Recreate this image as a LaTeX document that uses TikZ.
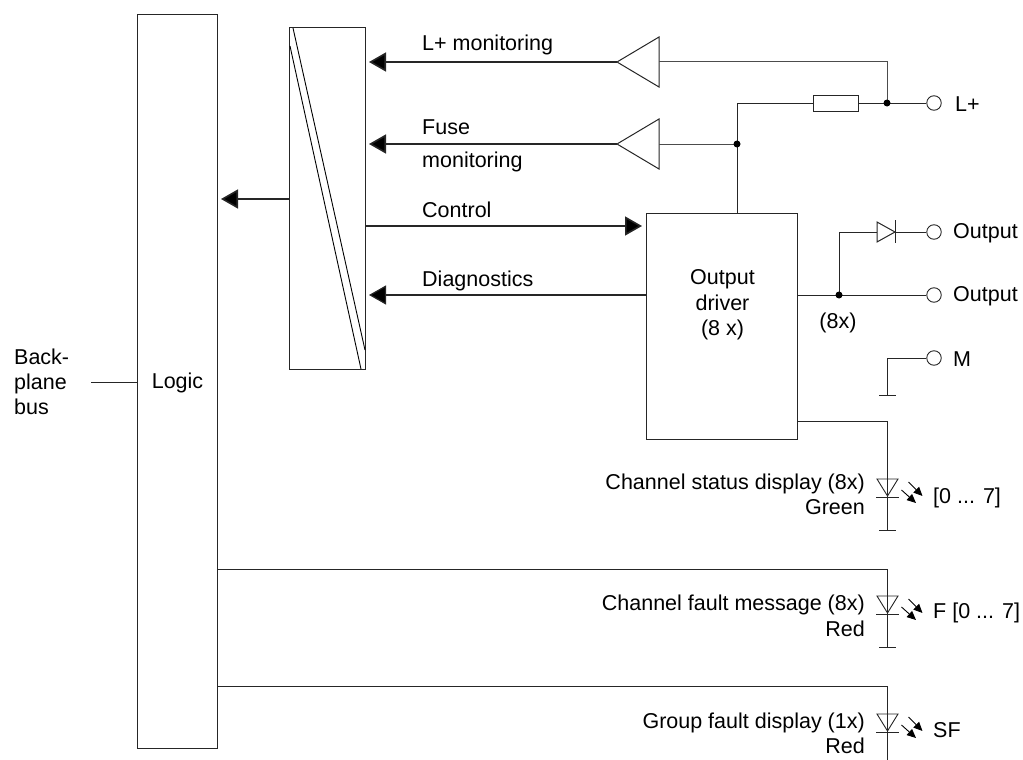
\documentclass[tikz,border=0pt]{standalone}
\usepackage{fontspec}
\setmainfont{Liberation Sans}
\usetikzlibrary{arrows.meta,calc}
\tikzset{
  x=1pt,y=-1pt,
  wire/.style={line width=1pt,draw=black!85},
  bus/.style={line width=1.6pt,draw=black!85,-{Triangle[length=17pt,width=19pt,fill=black]}},
  boxn/.style={draw=black!85,line width=1pt,fill=white,inner sep=0pt,outer sep=0pt,align=center},
  dot/.style={circle,fill=black,inner sep=0pt,minimum size=7pt},
  term/.style={circle,draw=black!85,line width=.9pt,fill=white,inner sep=0pt,minimum size=14.5pt},
  lab/.style={inner sep=0pt,font=\fontsize{21.5}{24.5}\selectfont},
  ray/.style={line width=.9pt,-{Triangle[length=9pt,width=8pt,fill=black]}},
  led/.pic={
    \draw[line width=.9pt,draw=black!85] (-10.5,-17) -- (10.5,-17) -- (0,0) -- cycle;
    \draw[line width=1pt,draw=black!85] (-11.5,1) -- (11.5,1);
    \draw[ray] (21,-14) -- (35,0);
    \draw[ray] (14,-6) -- (28.5,7);
  }
}
\begin{document}
\begin{tikzpicture}
\useasboundingbox (0,0) rectangle (1023,760);
% boxes
\node[boxn,minimum width=80pt,minimum height=733pt] (logic) at (177,381.5) {};
\node[boxn,minimum width=76pt,minimum height=341pt] (conv) at (327,198.5) {};
\node[boxn,minimum width=151pt,minimum height=226pt] (drv) at (721.5,326) {};
\node[lab,anchor=base] (logict) at (177.5,388) {Logic};
\node[lab,anchor=base] (drvt1) at (722.5,284) {Output};
\node[lab,anchor=base] (drvt2) at (722.5,310) {driver};
\node[lab,anchor=base] (drvt3) at (722.5,335) {(8 x)};
% terminals
\node[term] (tl) at (934,103) {};
\node[term] (to1) at (934,232) {};
\node[term] (to2) at (934,295) {};
\node[term] (tm) at (934,358) {};
\node[lab,anchor=base west] (tlt) at (955,111) {L+};
\node[lab,anchor=base west] (to1t) at (953,238) {Output};
\node[lab,anchor=base west] (to2t) at (953,301) {Output};
\node[lab,anchor=base west] (tmt) at (953,366) {M};
% amplifiers
\coordinate (a1) at (617,62);
\coordinate (a2) at (617,144);
\draw[wire,fill=white] (a1) -- (659,37) -- (659,87) -- cycle;
\draw[wire,fill=white] (a2) -- (659,119) -- (659,169) -- cycle;
% junctions
\coordinate (jl) at (887,103);
\coordinate (jf) at (737,144);
\coordinate (jo) at (839,295);
\coordinate (cfuse) at (737,103);
\coordinate (c1) at (839,232);
% fuse
\node[boxn,minimum width=45pt,minimum height=16pt] (fuse) at (835.5,103.5) {};
% wires
\draw[wire,draw=black!70] (659,62) -| (jl);
\draw[wire] (jl) -- (tl);
\draw[wire] (fuse.east |- jl) -- (jl);
\draw[wire] (fuse.west |- jl) -- (cfuse) -- (cfuse |- drv.north);
\draw[wire,draw=black!70] (659,144) -- (jf);
\draw[wire] (drv.east |- jo) -- (to2);
\draw[wire] (jo) -- (c1) -- (to1);
\draw[wire,fill=white] (877,222) -- (877,242) -- (895,232) -- cycle;
\draw[wire] (895,220) -- (895,243);
\node[dot] at (jl) {};
\node[dot] at (jf) {};
\node[dot] at (jo) {};
% M
\draw[wire] (tm) -| (887,395);
\draw[wire] (879,395) -- (896,395);
% conv
\draw[line width=.9pt] (293,28) -- (365,350);
\draw[line width=.9pt] (290,46) -- (361,369);
% buses
\draw[bus] (a1) -- (369,62);
\draw[bus] (a2) -- (369,144);
\draw[bus,line width=1.2pt] (drv.west |- 0,295) -- (369,295);
\draw[bus] (conv.west |- 0,199) -- (221,199);
\draw[bus] (366,226) -- (642,226);
% LEDs
\draw[wire] (drv.east |- 0,421) -| (887.5,530);
\draw[wire] (879,530) -- (896,530);
\draw[wire] (logic.east |- 0,569) -| (887.5,647);
\draw[wire] (879,647) -- (896,647);
\draw[wire] (logic.east |- 0,686) -| (887.5,760);
\pic at (887.5,496) {led};
\pic at (887.5,613) {led};
\pic at (887.5,731) {led};
% backplane
\coordinate (bb) at (91,382);
\draw[wire] (bb) -- (logic.west |- bb);
\node[lab,anchor=base west] (bp1) at (14,364) {Back-};
\node[lab,anchor=base west] (bp2) at (14,389) {plane};
\node[lab,anchor=base west] (bp3) at (14,414) {bus};
% labels
\node[lab,anchor=base west] at (422,51) {L+ monitoring};
\node[lab,anchor=base west] at (422,134) {Fuse};
\node[lab,anchor=base west] at (422,167) {monitoring};
\node[lab,anchor=base west] at (422,217) {Control};
\node[lab,anchor=base west] at (422,286) {Diagnostics};
\node[lab,anchor=base] at (838,328) {(8x)};
\node[lab,anchor=base east] at (865,489) {Channel status display (8x)};
\node[lab,anchor=base east] at (865,514) {Green};
\node[lab,anchor=base east] at (865,610) {Channel fault message (8x)};
\node[lab,anchor=base east] at (865,636) {Red};
\node[lab,anchor=base east] at (865,728) {Group fault display (1x)};
\node[lab,anchor=base east] at (865,753) {Red};
\node[lab,anchor=base west] at (933,503) {[0 ... 7]};
\node[lab,anchor=base west] at (933,618) {F [0 ... 7]};
\node[lab,anchor=base west] at (933,737) {SF};
\end{tikzpicture}
\end{document}
